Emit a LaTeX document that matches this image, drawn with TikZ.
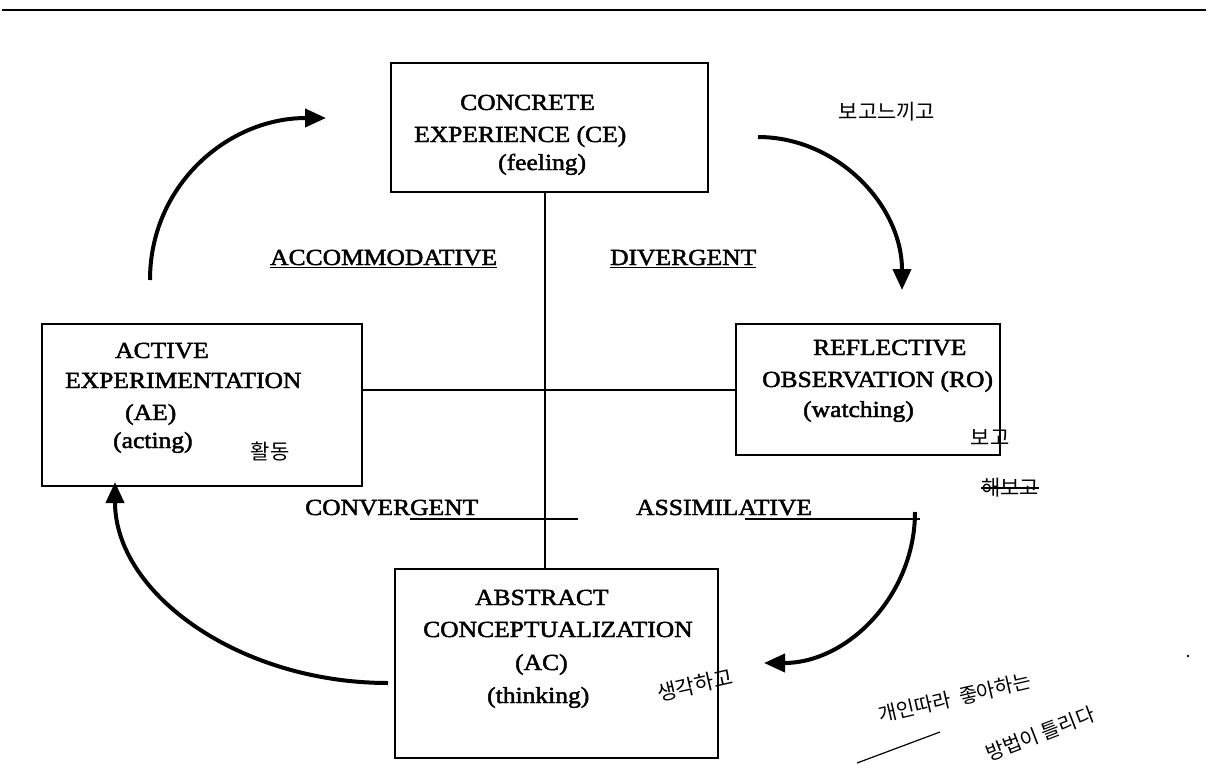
\documentclass[tikz,border=0pt]{standalone}
\usepackage{fontspec}
\setmainfont{Liberation Serif}[FakeStretch=1.11,FakeBold=2]
\newfontfamily\hand{Noto Sans CJK KR}
\usetikzlibrary{arrows.meta}
\begin{document}
\begin{tikzpicture}[x=1pt,y=-1pt,
  stagebox/.style={draw,line width=2.4pt,inner sep=0pt},
  lbl/.style={anchor=base west,inner sep=0pt,font=\fontsize{23}{26}\selectfont},
  axis/.style={line width=2pt},
  cycle/.style={line width=4pt,-{Triangle[length=21pt,width=18pt]}},
  hw/.style={inner sep=0pt,font=\hand\fontsize{21}{23}\selectfont},
  ink/.style={line width=1.6pt}]
\useasboundingbox (0,0) rectangle (1208,776);

% rule across the top of the page
\coordinate (ruleL) at (2,10);
\coordinate (ruleR) at (1206,10);
\draw[line width=2.6pt] (ruleL) -- (ruleR);

% the four stages
\node[stagebox,minimum width=317pt,minimum height=129pt] (CE) at (549.5,127.5) {};
\node[stagebox,minimum width=320pt,minimum height=162pt] (AE) at (202,405) {};
\node[stagebox,minimum width=264pt,minimum height=131pt] (RO) at (868,389.5) {};
\node[stagebox,minimum width=323pt,minimum height=189pt] (AC) at (556.5,663.5) {};

\node[lbl] (ce1) at (460,110) {CONCRETE};
\node[lbl] (ce2) at (414,142) {EXPERIENCE (CE)};
\node[lbl] (ce3) at (498,170) {(feeling)};

\node[lbl] (ae1) at (115,358) {ACTIVE};
\node[lbl] (ae2) at (65,388) {EXPERIMENTATION};
\node[lbl] (ae3) at (125,420) {(AE)};
\node[lbl] (ae4) at (113,448) {(acting)};

\node[lbl] (ro1) at (813,355) {REFLECTIVE};
\node[lbl] (ro2) at (762,387) {OBSERVATION (RO)};
\node[lbl] (ro3) at (803,417) {(watching)};

\node[lbl] (ac1) at (475,605) {ABSTRACT};
\node[lbl] (ac2) at (423,637) {CONCEPTUALIZATION};
\node[lbl] (ac3) at (515,670) {(AC)};
\node[lbl] (ac4) at (487,703) {(thinking)};

% the two axes
\coordinate (vx) at (545,0);
\coordinate (hy) at (0,390);
\draw[axis] (CE.south -| vx) -- (AC.north -| vx);
\draw[axis] (AE.east |- hy) -- (RO.west |- hy);

% learning styles in the quadrants
\node[lbl] (acc) at (270,265) {\underline{ACCOMMODATIVE}};
\node[lbl] (div) at (610,265) {\underline{DIVERGENT}};
\node[lbl] (con) at (305,515) {CONVERGENT};
\node[lbl] (ass) at (636,515) {ASSIMILATIVE};
\coordinate (conA) at (410,519);
\coordinate (conB) at (578,519);
\coordinate (assA) at (745,519);
\coordinate (assB) at (920,519);
\draw[line width=1.3pt] (conA) -- (conB);
\draw[line width=1.3pt] (assA) -- (assB);

% the cycle
\coordinate (a1s) at (150,280);
\coordinate (a1e) at (326,118);
\coordinate (a2s) at (758,137);
\coordinate (a2e) at (902,290);
\coordinate (a3s) at (915,512);
\coordinate (a3e) at (764,663);
\coordinate (a4s) at (388,683);
\coordinate (a4e) at (115,482);
\draw[cycle] (a1s) .. controls (150,185) and (228,118) .. (a1e);
\draw[cycle] (a2s) .. controls (837,137) and (902,205) .. (a2e);
\draw[cycle] (a3s) .. controls (915,595) and (848,663) .. (a3e);
\draw[cycle] (a4s) .. controls (240,683) and (115,594) .. (a4e);

% pencilled notes
\node[hw] (n1) at (887,112) {보고느끼고};
\node[hw] (n2) at (270,452) {활동};
\node[hw] (n3) at (990,437) {보고};
\node[hw] (n4) at (1010,488) {해보고};
\draw[ink] (n4.west) -- (n4.east);
\node[hw,rotate=13] (n5) at (695,685) {생각하고};
\node[hw,rotate=13,font=\hand\fontsize{20}{22}\selectfont] (n6) at (955,698) {개인따라\ \ 좋아하는};
\node[hw,rotate=21,font=\hand\fontsize{20}{22}\selectfont] (n7) at (1040,734) {방법이 틀리다};
\coordinate (ulA) at (857,763);
\coordinate (ulB) at (940,732);
\draw[line width=1.2pt] (ulA) -- (ulB);
\fill (1188,656) circle (1.3pt);
\end{tikzpicture}
\end{document}
